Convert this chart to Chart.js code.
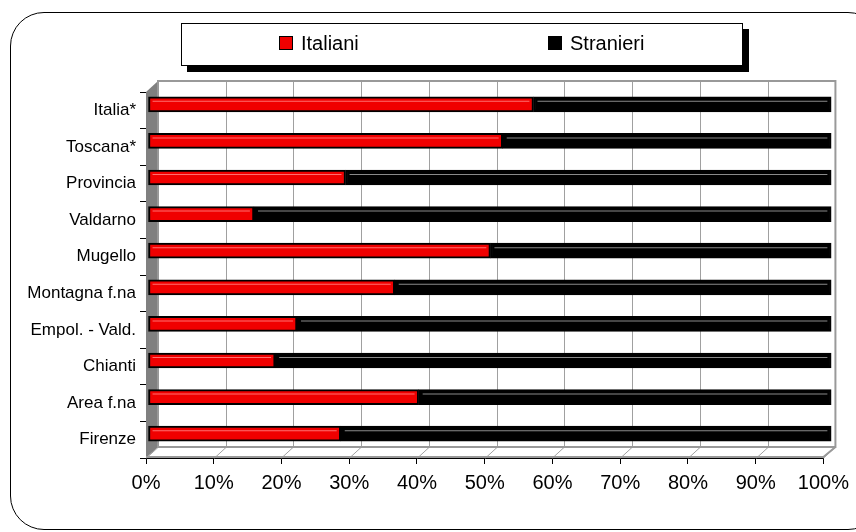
<!DOCTYPE html>
<html>
<head>
<meta charset="utf-8">
<script src="https://cdn.jsdelivr.net/npm/chart.js@4.4.0/dist/chart.umd.min.js"></script>
<style>
  html, body { margin: 0; padding: 0; background: #fff; overflow: hidden; }
  #wrap { position: relative; width: 856px; height: 532px; overflow: hidden; }
  #frame {
    position: absolute; left: 10px; top: 12px; width: 870px; height: 516px;
    border: 1.5px solid #000; border-radius: 34px;
  }
  #legend {
    position: absolute; left: 181px; top: 23px; width: 560px; height: 41px;
    border: 1px solid #000; background: #fff; box-shadow: 6px 6px 0 #000;
    font-family: "Liberation Sans", Arial, sans-serif; font-size: 20px;
  }
  .item { position: absolute; top: 8px; line-height: 22px; }
  .sw { display: inline-block; width: 12px; height: 12px; border: 1px solid #000; margin-right: 8px; vertical-align: 0px; }
  canvas { position: absolute; left: 0; top: 0; }
</style>
</head>
<body>
<div id="wrap">
  <div id="frame"></div>
  <canvas id="chart" width="856" height="532"></canvas>
  <div id="legend">
    <span class="item" style="left:97px"><span class="sw" style="background:#f00000"></span>Italiani</span>
    <span class="item" style="left:366px"><span class="sw" style="background:#000"></span>Stranieri</span>
  </div>
</div>
<script>
// Data (share of Italiani, %)
const areas = ['Italia*', 'Toscana*', 'Provincia', 'Valdarno', 'Mugello',
  'Montagna f.na', 'Empol. - Vald.', 'Chianti', 'Area f.na', 'Firenze'];
const italiani = [56.4, 51.9, 28.9, 15.5, 50.1, 36.1, 21.8, 18.6, 39.6, 28.2];
const stranieri = [43.6, 48.1, 71.1, 84.5, 49.9, 63.9, 78.2, 81.4, 60.4, 71.8];
const xTicks = [0, 10, 20, 30, 40, 50, 60, 70, 80, 90, 100];

const FONT = '"Liberation Sans", Arial, sans-serif';
const DX = 12, DY = 11; // depth of the 3D box

// back wall, floor and left wall of the 3D box
const boxPlugin = {
  id: 'box',
  beforeDatasetsDraw(chart) {
    const ctx = chart.ctx;
    const a = chart.chartArea;
    const x = chart.scales.x;
    ctx.save();
    // left wall
    ctx.fillStyle = '#808080';
    ctx.beginPath();
    ctx.moveTo(a.left, a.top);
    ctx.lineTo(a.left + DX, a.top - DY);
    ctx.lineTo(a.left + DX, a.bottom - DY);
    ctx.lineTo(a.left, a.bottom);
    ctx.closePath();
    ctx.fill();
    ctx.strokeStyle = '#a0a0a0';
    ctx.lineWidth = 1;
    // back wall grid
    xTicks.forEach((v) => {
      const px = Math.round(x.getPixelForValue(v)) + DX + 0.5;
      ctx.beginPath();
      ctx.moveTo(px, a.top - DY);
      ctx.lineTo(px, a.bottom - DY);
      ctx.stroke();
      // floor lines
      ctx.beginPath();
      ctx.moveTo(px - DX, a.bottom);
      ctx.lineTo(px, a.bottom - DY);
      ctx.stroke();
    });
    ctx.strokeStyle = '#999';
    ctx.lineWidth = 2;
    ctx.strokeRect(a.left + DX, a.top - DY, a.right - a.left, a.bottom - a.top);
    ctx.beginPath();
    ctx.moveTo(a.left, a.bottom - 1);
    ctx.lineTo(a.right, a.bottom - 1);
    ctx.lineTo(a.right + DX, a.bottom - DY);
    ctx.stroke();
    ctx.restore();

    // bars sit inside the box depth
    ctx.save();
    ctx.translate(148, -6);
    ctx.scale(685 / 679, 1);
    ctx.translate(-a.left, 0);
  },
  afterDatasetsDraw(chart) {
    const ctx = chart.ctx;
    // highlight line along each bar
    chart.data.datasets.forEach((ds, i) => {
      const meta = chart.getDatasetMeta(i);
      meta.data.forEach((bar) => {
        const top = bar.y - bar.height / 2 + 4.5;
        ctx.strokeStyle = i === 0 ? '#ff7070' : '#8a8a8a';
        ctx.lineWidth = 1;
        ctx.beginPath();
        ctx.moveTo(Math.min(bar.base, bar.x) + 4, top);
        ctx.lineTo(Math.max(bar.base, bar.x) - 4, top);
        ctx.stroke();
      });
    });
    ctx.restore();
  }
};

new Chart(document.getElementById('chart'), {
  type: 'bar',
  data: {
    labels: areas,
    datasets: [
      {
        label: 'Italiani',
        data: italiani,
        backgroundColor: '#f00000',
        borderColor: '#000',
        borderWidth: 2,
        borderSkipped: false,
        barThickness: 15,
      },
      {
        label: 'Stranieri',
        data: stranieri,
        backgroundColor: '#000',
        borderColor: '#000',
        borderWidth: 2,
        borderSkipped: false,
        barThickness: 15,
      },
    ],
  },
  options: {
    indexAxis: 'y',
    responsive: false,
    animation: false,
    layout: { padding: { top: 92, right: 31, left: 0, bottom: 0 } },
    plugins: {
      legend: { display: false },
      tooltip: { enabled: false },
    },
    scales: {
      x: {
        stacked: true,
        min: 0,
        max: 100,
        afterBuildTicks: (scale) => {
          scale.ticks = xTicks.map((v) => ({ value: v }));
        },
        afterFit: (scale) => { scale.height = 74; },
        ticks: {
          color: '#000',
          padding: 7,
          maxRotation: 0,
          font: { family: FONT, size: 20 },
          callback: (v) => v + '%',
        },
        grid: {
          drawOnChartArea: false,
          tickLength: 6,
          color: '#000',
        },
        border: { color: '#000', width: 1 },
      },
      y: {
        stacked: true,
        afterFit: (scale) => { scale.width = 146; },
        ticks: {
          color: '#000',
          padding: 4,
          font: { family: FONT, size: 17 },
        },
        grid: {
          drawOnChartArea: false,
          offset: true,
          tickLength: 6,
          color: '#000',
        },
        border: { color: '#000', width: 1 },
      },
    },
  },
  plugins: [boxPlugin],
});
</script>
</body>
</html>
